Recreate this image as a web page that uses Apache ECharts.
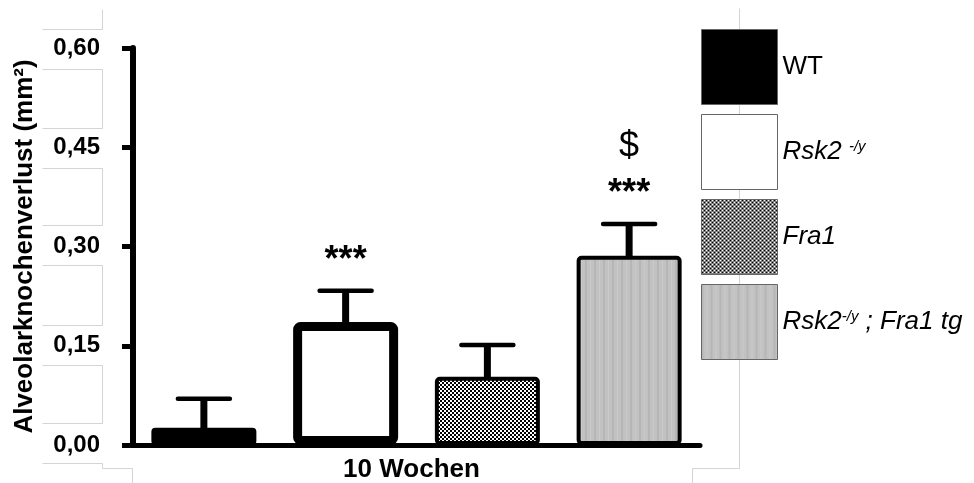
<!DOCTYPE html>
<html>
<head>
<meta charset="utf-8">
<script src="https://cdn.jsdelivr.net/npm/echarts@6/dist/echarts.min.js"></script>
<style>
  html, body { margin: 0; padding: 0; background: #fff; }
  #chart { width: 974px; height: 483px; }
</style>
</head>
<body>
<div id="chart"></div>
<script>
// Groups, means and SEM of alveolar bone loss at 10 weeks
const groups = ['WT', 'Rsk2 -/y', 'Fra1', 'Rsk2-/y ; Fra1 tg'];
const means = [0.026, 0.186, 0.103, 0.286];
const sems = [0.044, 0.047, 0.048, 0.048];
const stars = ['', '***', '', '***'];
const dollars = ['', '', '', '$'];
const timeLabel = '10 Wochen';
const yTickValues = [0, 0.15, 0.30, 0.45, 0.60];
const yTickLabels = ['0,00', '0,15', '0,30', '0,45', '0,60'];

const FONT = '"Liberation Sans", Arial, sans-serif';

// Fill patterns
function checkerPattern() {
  const c = document.createElement('canvas');
  c.width = 4; c.height = 4;
  const g = c.getContext('2d');
  g.fillStyle = '#fff'; g.fillRect(0, 0, 4, 4);
  g.fillStyle = '#000';
  g.fillRect(0, 0, 2, 2);
  g.fillRect(2, 2, 2, 2);
  return { image: c, repeat: 'repeat' };
}
function stripePattern() {
  const c = document.createElement('canvas');
  c.width = 9; c.height = 4;
  const g = c.getContext('2d');
  g.fillStyle = '#c2c2c2'; g.fillRect(0, 0, 9, 4);
  g.fillStyle = '#b6b6b6'; g.fillRect(0, 0, 2, 4);
  g.fillStyle = '#cacaca'; g.fillRect(5, 0, 1, 4);
  return { image: c, repeat: 'repeat' };
}

const fills = ['#000', '#fff', checkerPattern(), stripePattern()];
const borderWidths = [2, 9, 4, 4];

const barSeries = groups.map((name, i) => ({
  name: name,
  type: 'bar',
  barWidth: 105,
  barGap: '-100%',
  z: 3,
  itemStyle: {
    color: fills[i],
    borderColor: '#000',
    borderWidth: borderWidths[i],
    borderRadius: 3
  },
  data: groups.map((g, j) => (j === i ? means[i] : '-'))
}));

const errorSeries = {
  type: 'custom',
  z: 5,
  silent: true,
  data: groups.map((g, i) => [i, means[i], sems[i]]),
  renderItem: function (params, api) {
    const i = api.value(0);
    const top = api.coord([i, api.value(1)]);
    const cap = api.coord([i, api.value(1) + api.value(2)]);
    const children = [
      { type: 'rect', shape: { x: top[0] - 3.5, y: cap[1], width: 7, height: top[1] - cap[1] + 2 },
        style: { fill: '#000' } },
      { type: 'line', shape: { x1: cap[0] - 26, y1: cap[1], x2: cap[0] + 26, y2: cap[1] },
        style: { stroke: '#000', lineWidth: 4.5, lineCap: 'round' } }
    ];
    if (stars[i]) {
      children.push({ type: 'text', style: {
        text: stars[i], x: cap[0], y: cap[1] - 30, align: 'center', verticalAlign: 'middle',
        font: 'bold 36px ' + FONT, fill: '#000' } });
    }
    if (dollars[i]) {
      children.push({ type: 'text', style: {
        text: dollars[i], x: cap[0], y: cap[1] - 77, align: 'center', verticalAlign: 'middle',
        font: '36px ' + FONT, fill: '#000' } });
    }
    return { type: 'group', children: children };
  }
};

// Light outlines of the surrounding layout boxes
const decoLines = [
  [102, 9, 102, 29], [102, 69, 102, 128], [102, 168, 102, 225], [102, 265, 102, 325], [102, 365, 102, 423],
  [42, 29, 102, 29], [42, 69, 102, 69], [42, 128, 102, 128], [42, 168, 102, 168], [42, 225, 102, 225],
  [42, 265, 102, 265], [42, 325, 102, 325], [42, 365, 102, 365], [42, 423, 102, 423], [42, 463, 102, 463],
  [102, 463, 102, 468], [102, 468, 132, 468], [132, 468, 132, 483],
  [739, 8, 739, 468], [692, 468, 739, 468], [692, 468, 692, 483]
].map(p => ({
  type: 'line', silent: true, z: 0,
  shape: { x1: p[0] + 0.5, y1: p[1] + 0.5, x2: p[2] + 0.5, y2: p[3] + 0.5 },
  style: { stroke: '#d4d4d4', lineWidth: 1 }
}));

const legendRich = {
  n: { fontFamily: FONT, fontSize: 26, color: '#000' },
  i: { fontFamily: FONT, fontSize: 26, fontStyle: 'italic', color: '#000' },
  s: { fontFamily: FONT, fontSize: 15, fontStyle: 'italic', color: '#000', verticalAlign: 'top' }
};
const legendText = {
  'WT': '{n|WT}',
  'Rsk2 -/y': '{i|Rsk2 }{s|-/y}',
  'Fra1': '{i|Fra1}',
  'Rsk2-/y ; Fra1 tg': '{i|Rsk2}{s|-/y}{i| ; Fra1 tg}'
};

const chart = echarts.init(document.getElementById('chart'), null, { renderer: 'canvas' });
chart.setOption({
  animation: false,
  backgroundColor: '#fff',
  grid: { left: 133, right: 274, top: 48, bottom: 38, containLabel: false, outerBoundsMode: 'none' },
  legend: {
    orient: 'vertical',
    left: 701,
    top: 29,
    padding: 0,
    itemWidth: 76,
    itemHeight: 75,
    itemGap: 9,
    icon: 'rect',
    selectedMode: false,
    data: groups,
    itemStyle: { borderColor: '#666', borderWidth: 1 },
    formatter: name => legendText[name],
    textStyle: { rich: legendRich }
  },
  xAxis: {
    type: 'category',
    data: groups,
    name: timeLabel,
    nameLocation: 'middle',
    nameGap: 12,
    nameTextStyle: { fontFamily: FONT, fontWeight: 'bold', fontSize: 26, color: '#000', padding: [0, 10, 0, 0] },
    axisLine: { lineStyle: { color: '#000', width: 5 } },
    axisTick: { show: false },
    axisLabel: { show: false }
  },
  yAxis: {
    type: 'value',
    min: 0,
    max: 0.6,
    interval: 0.15,
    name: 'Alveolarknochenverlust (mm²)',
    nameLocation: 'middle',
    nameRotate: 90,
    nameGap: 95,
    nameTextStyle: { fontFamily: FONT, fontWeight: 'bold', fontSize: 26, color: '#000' },
    axisLine: { show: true, lineStyle: { color: '#000', width: 6 } },
    axisTick: { show: true, length: 11, lineStyle: { color: '#000', width: 5 } },
    splitLine: { show: false },
    axisLabel: {
      margin: 33,
      fontFamily: FONT, fontWeight: 'bold', fontSize: 24, color: '#000',
      formatter: v => {
        const k = yTickValues.findIndex(t => Math.abs(t - v) < 1e-9);
        return k >= 0 ? yTickLabels[k] : '';
      }
    }
  },
  graphic: decoLines,
  series: barSeries.concat([errorSeries])
});
</script>
</body>
</html>
